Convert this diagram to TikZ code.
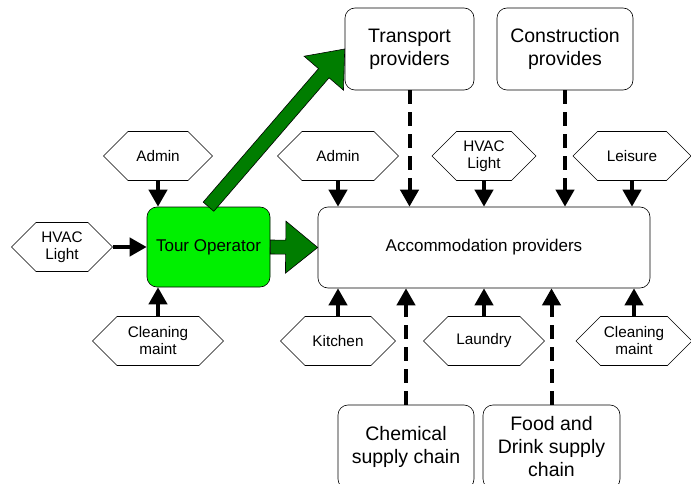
\documentclass[tikz,border=0pt]{standalone}
\usepackage{fontspec}
\setmainfont{Liberation Sans}
\usetikzlibrary{arrows.meta,calc,shapes.symbols}

\definecolor{tourgreen}{RGB}{0,240,0}
\definecolor{arrowgreen}{RGB}{0,125,0}

% block arrow from #1 to #2
\newcommand{\greenarrow}[2]{%
  \coordinate (ga-h) at ($(#2)!32pt!(#1)$);
  \filldraw[fill=arrowgreen, draw=black, line width=0.6pt, line join=miter]
    ($(#1)!7pt!90:(#2)$) -- ($(ga-h)!7pt!-90:(#1)$) -- ($(ga-h)!26pt!-90:(#1)$) -- (#2)
    -- ($(ga-h)!26pt!90:(#1)$) -- ($(ga-h)!7pt!90:(#1)$) -- ($(#1)!7pt!-90:(#2)$) -- cycle;}

\begin{document}
\begin{tikzpicture}[x=1pt, y=-1pt, line width=0.6pt,
    box node/.style={draw, rounded corners=10pt, fill=white, align=center, inner sep=2pt,
      font=\fontsize{19.5}{23}\selectfont},
    hex node/.style={signal, signal to=west and east, signal pointer angle=90, draw, fill=white,
      align=center, inner sep=1pt, minimum height=49pt, font=\fontsize{15.3}{17}\selectfont},
    feed/.style={line width=4pt, -{Triangle[length=17pt,width=18pt]}},
    supply/.style={line width=4pt, dash pattern=on 14pt off 8pt, -{Triangle[length=17pt,width=18pt]}}]

                \useasboundingbox (0,0) rectangle (691,484);

                \node[box node, fill=tourgreen, minimum width=123pt, minimum height=80pt,
                  font=\fontsize{17}{20}\selectfont] at (208.5, 247) (tour) {Tour Operator};
                \node[box node, minimum width=332pt, minimum height=81pt,
                  font=\fontsize{17}{20}\selectfont] at (484, 247.5) (acc) {Accommodation providers};

                \node[box node, minimum width=129pt, minimum height=82pt] at (409.5, 49) (trans) {Transport\\providers};
                \node[box node, minimum width=136pt, minimum height=82pt] at (565, 49) (constr) {Construction\\provides};
                \node[box node, minimum width=136pt, minimum height=84pt] at (406, 447) (chem) {Chemical\\supply chain};
                \node[box node, minimum width=137pt, minimum height=84pt] at (551.5, 447) (food) {Food and\\Drink supply\\chain};

                \node[hex node, minimum width=109pt] at (158, 156) (adminL) {Admin};
                \node[hex node, minimum width=101pt] at (62, 247) (hvacL) {HVAC\\Light};
                \node[hex node, minimum width=131pt] at (158, 341) (cleanL) {Cleaning\\maint};
                \node[hex node, minimum width=121pt] at (338, 156) (adminR) {Admin};
                \node[hex node, minimum width=104pt] at (484, 156) (hvacM) {HVAC\\Light};
                \node[hex node, minimum width=118pt] at (632, 156) (leisure) {Leisure};
                \node[hex node, minimum width=115pt] at (338, 341) (kitchen) {Kitchen};
                \node[hex node, minimum width=121pt] at (484, 341) (laundry) {Laundry};
                \node[hex node, minimum width=116pt] at (634, 341) (cleanR) {Cleaning\\maint};

                % into the tour operator
                \draw[feed] (adminL.south) -- (adminL.south |- tour.north);
                \draw[feed] (hvacL.east) -- (hvacL.east -| tour.west);
                \draw[feed] (cleanL.north) -- (cleanL.north |- tour.south);

                % into the accommodation
                \draw[feed] (adminR.south) -- (adminR.south |- acc.north);
                \draw[feed] (hvacM.south) -- (hvacM.south |- acc.north);
                \draw[feed] (leisure.south) -- (leisure.south |- acc.north);
                \draw[feed] (kitchen.north) -- (kitchen.north |- acc.south);
                \draw[feed] (laundry.north) -- (laundry.north |- acc.south);
                \draw[feed] (cleanR.north) -- (cleanR.north |- acc.south);

                \draw[supply] (trans.south) -- (trans.south |- acc.north);
                \draw[supply] (constr.south) -- (constr.south |- acc.north);
                \draw[supply] (chem.north) -- (chem.north |- acc.south);
                \draw[supply] (food.north) -- (food.north |- acc.south);

                \greenarrow{tour.east}{acc.west}
                \greenarrow{tour.north}{trans.west}
            \end{tikzpicture}
\end{document}
